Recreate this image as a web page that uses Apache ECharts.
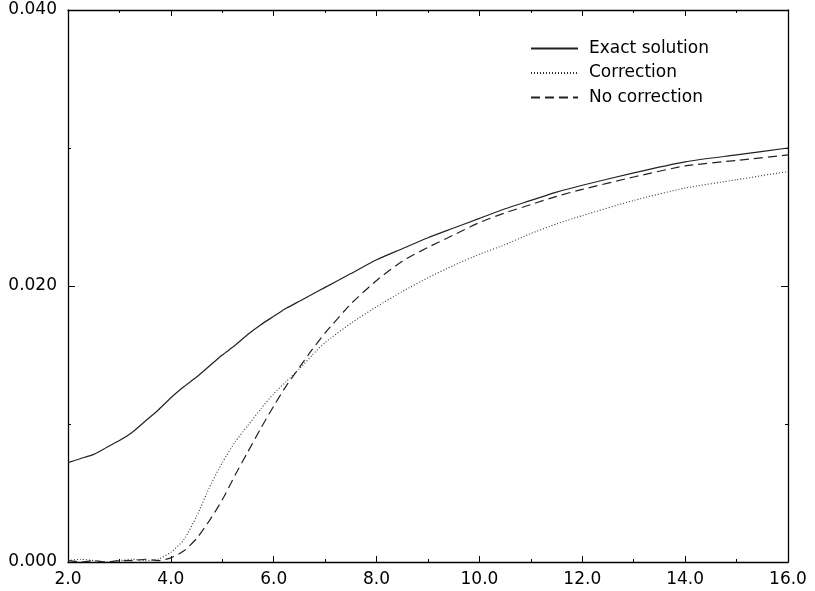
<!DOCTYPE html>
<html>
<head>
<meta charset="utf-8">
<script src="https://cdn.jsdelivr.net/npm/echarts@6/dist/echarts.min.js"></script>
<style>
  html, body { margin: 0; padding: 0; background: #fff; }
  #chart { width: 815px; height: 591px; }
</style>
</head>
<body>
<div id="chart"></div>
<script>
// Sample positions along the horizontal axis
const xValues = [2.0, 2.25, 2.5, 2.75, 3.0, 3.25, 3.5, 3.75, 4.0, 4.25, 4.5, 4.75,
  5.0, 5.25, 5.5, 5.75, 6.0, 6.25, 6.5, 6.75, 7.0, 7.5, 8.0, 8.5, 9.0, 9.5,
  10.0, 10.5, 11.0, 11.5, 12.0, 13.0, 14.0, 15.0, 16.0];

// Exact solution
const exactValues = [0.0072, 0.0075, 0.0078, 0.0083, 0.0088, 0.0094, 0.0102, 0.0110, 0.0119, 0.0127, 0.0134, 0.0142,
  0.0150, 0.0157, 0.0165, 0.0172, 0.0178, 0.0184, 0.0189, 0.0194, 0.0199, 0.0209, 0.0219, 0.0227, 0.0235, 0.0242,
  0.0249, 0.0256, 0.0262, 0.0268, 0.0273, 0.0282, 0.0290, 0.0295, 0.0300];

// Scheme with correction
const correctionValues = [0.0001, 0.0002, 0.0001, 0.0000, 0.0001, 0.0002, 0.0001, 0.0002, 0.0007, 0.0016, 0.0033, 0.0054,
  0.0072, 0.0087, 0.0099, 0.0111, 0.0122, 0.0131, 0.0140, 0.0150, 0.0159, 0.0173, 0.0185, 0.0196, 0.0206, 0.0215,
  0.0223, 0.0230, 0.0238, 0.0245, 0.0251, 0.0262, 0.0271, 0.0277, 0.0283];

// Scheme without correction
const noCorrectionValues = [0.0001, 0.0000, 0.0001, 0.0000, 0.0001, 0.0001, 0.0002, 0.0001, 0.0003, 0.0008, 0.0017, 0.0030,
  0.0045, 0.0063, 0.0080, 0.0097, 0.0113, 0.0128, 0.0141, 0.0154, 0.0166, 0.0187, 0.0204, 0.0218, 0.0228, 0.0237,
  0.0246, 0.0253, 0.0259, 0.0265, 0.0270, 0.0279, 0.0287, 0.0291, 0.0295];

const seriesNames = ['Exact solution', 'Correction', 'No correction'];
const xTicks = { min: 2, max: 16, step: 2 };
const yTicks = { min: 0, max: 0.04, step: 0.02 };

const pair = (ys) => xValues.map((x, i) => [x, ys[i]]);

const FONT = 'DejaVu Sans';
const INK = '#000';

function xAxisDef(showLabels, pos) {
  return {
    type: 'value', position: pos, min: xTicks.min, max: xTicks.max, interval: xTicks.step,
    axisLine: { show: true, onZero: false, lineStyle: { color: INK, width: 1.3 } },
    axisTick: { show: true, inside: true, length: 6, lineStyle: { color: INK, width: 1 } },
    minorTick: { show: true, splitNumber: 2, length: 3, lineStyle: { color: INK, width: 1 } },
    axisLabel: { show: showLabels, margin: 9, fontFamily: FONT, fontSize: 17, color: INK,
      formatter: (v) => v.toFixed(1) },
    splitLine: { show: false }
  };
}
function yAxisDef(showLabels, pos) {
  return {
    type: 'value', position: pos, min: yTicks.min, max: yTicks.max, interval: yTicks.step,
    axisLine: { show: true, onZero: false, lineStyle: { color: INK, width: 1.3 } },
    axisTick: { show: true, inside: true, length: 7, lineStyle: { color: INK, width: 1 } },
    minorTick: { show: true, splitNumber: 2, length: 3, lineStyle: { color: INK, width: 1 } },
    axisLabel: { show: showLabels, margin: 11, fontFamily: FONT, fontSize: 17, color: INK,
      formatter: (v) => v.toFixed(3) },
    splitLine: { show: false }
  };
}

const chart = echarts.init(document.getElementById('chart'), null, { renderer: 'canvas' });
chart.setOption({
  animation: false,
  backgroundColor: '#fff',
  grid: { left: 68, right: 27, top: 10, bottom: 29 },
  xAxis: [xAxisDef(true, 'bottom'), xAxisDef(false, 'top')],
  yAxis: [yAxisDef(true, 'left'), yAxisDef(false, 'right')],
  legend: {
    orient: 'vertical', left: 530, top: 40, padding: 0,
    itemWidth: 47, itemHeight: 14, itemGap: 7.5,
    itemStyle: { opacity: 0 },
    textStyle: { fontFamily: FONT, fontSize: 17, color: INK, padding: [0, 0, 0, 6] },
    data: seriesNames
  },
  series: [
    {
      name: seriesNames[0], type: 'line', data: pair(exactValues), smooth: 0.2,
      symbol: 'none', lineStyle: { color: '#222', width: 1.2, type: 'solid' },
      itemStyle: { color: '#222' }
    },
    {
      name: seriesNames[1], type: 'line', data: pair(correctionValues), smooth: 0.2,
      symbol: 'none', lineStyle: { color: '#333', width: 1.1, type: [1, 2] },
      itemStyle: { color: '#333' }
    },
    {
      name: seriesNames[2], type: 'line', data: pair(noCorrectionValues), smooth: 0.2,
      symbol: 'none', lineStyle: { color: '#222', width: 1.2, type: [9, 5] },
      itemStyle: { color: '#222' }
    }
  ]
});
</script>
</body>
</html>
